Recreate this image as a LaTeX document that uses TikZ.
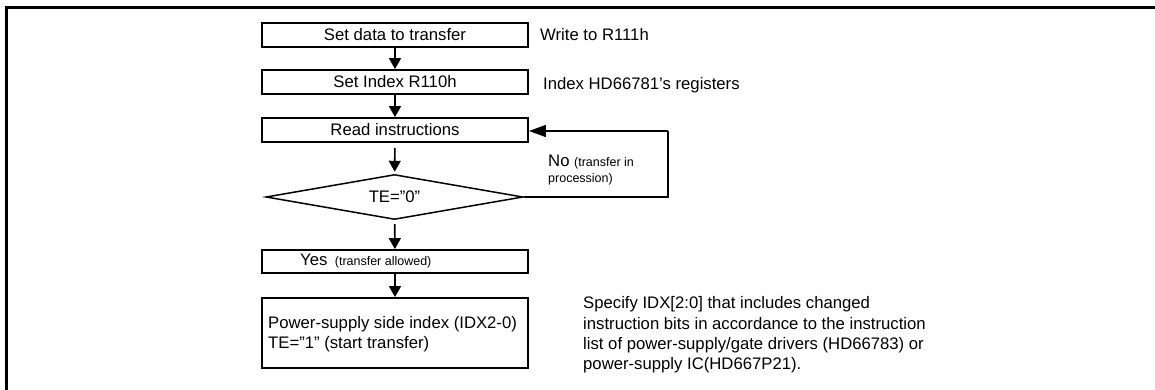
\documentclass[tikz,border=0pt]{standalone}
\usepackage{fontspec}
\setmainfont{Liberation Sans}
\usetikzlibrary{shapes.geometric,arrows.meta}
\begin{document}
\begin{tikzpicture}[x=1pt,y=-1pt,
  every node/.style={font=\fontsize{16.7}{20.3}\selectfont, inner sep=0pt},
  stepbox/.style={draw, line width=1.8pt, minimum width=266pt, minimum height=24pt, anchor=center},
  dec/.style={draw, diamond, line width=1.5pt, minimum width=257pt, minimum height=45pt, aspect=5.7},
  arr/.style={line width=1.6pt, -{Triangle[length=11pt,width=12pt]}},
  longarr/.style={line width=1.3pt, -{Triangle[length=17pt,width=12pt]}},
  lbl/.style={anchor=west}]
\useasboundingbox (0,0) rectangle (1155,390);
\draw[line width=3pt] (1155,8) -- (6,8) -- (6,390);
\node[stepbox] (b1) at (395,35) {Set data to transfer};
\node[stepbox] (b2) at (395,82) {Set Index R110h};
\node[stepbox] (b3) at (395,130) {Read instructions};
\node[dec] (d) at (394.5,197) {TE=''0''};
\node[stepbox, minimum height=23pt] (yes) at (395,261.5) {};
\node[anchor=west] (yest) at (300,261) {Yes \,{\fontsize{12.5}{15}\selectfont(transfer allowed)}};
\node[stepbox, minimum height=70pt] (ps) at (395,333) {};
\node[anchor=west, align=left] (pst) at (268,334) {Power-supply side index (IDX2-0)\\TE=''1'' (start transfer)};
\node[lbl] (l1) at (540,35) {Write to R111h};
\node[lbl] (l2) at (543,85) {Index HD66781's registers};
\node[anchor=north west, align=left] (no) at (548,155) {No {\fontsize{12.5}{15}\selectfont(transfer in}\\[-4pt]{\fontsize{12.5}{15}\selectfont procession)}};
\node[anchor=west, align=left] (spec) at (583,335) {Specify IDX[2:0] that includes changed\\instruction bits in accordance to the instruction\\list of power-supply/gate drivers (HD66783) or\\power-supply IC(HD667P21).};
\coordinate (c1) at (668,197);
\coordinate (c2) at (668,131);
\draw[arr] (b1) -- (b2);
\draw[arr] (b2) -- (b3);
\draw[arr, shorten <=5pt, shorten >=2pt] (b3) -- (d);
\draw[arr, shorten <=4pt] (d) -- (yes);
\draw[arr] (yes) -- (ps);
\draw[line width=1.3pt] (d.east) -- (c1) -- (c2);
\draw[longarr] (c2) -- (b3.east |- c2);
\end{tikzpicture}
\end{document}
